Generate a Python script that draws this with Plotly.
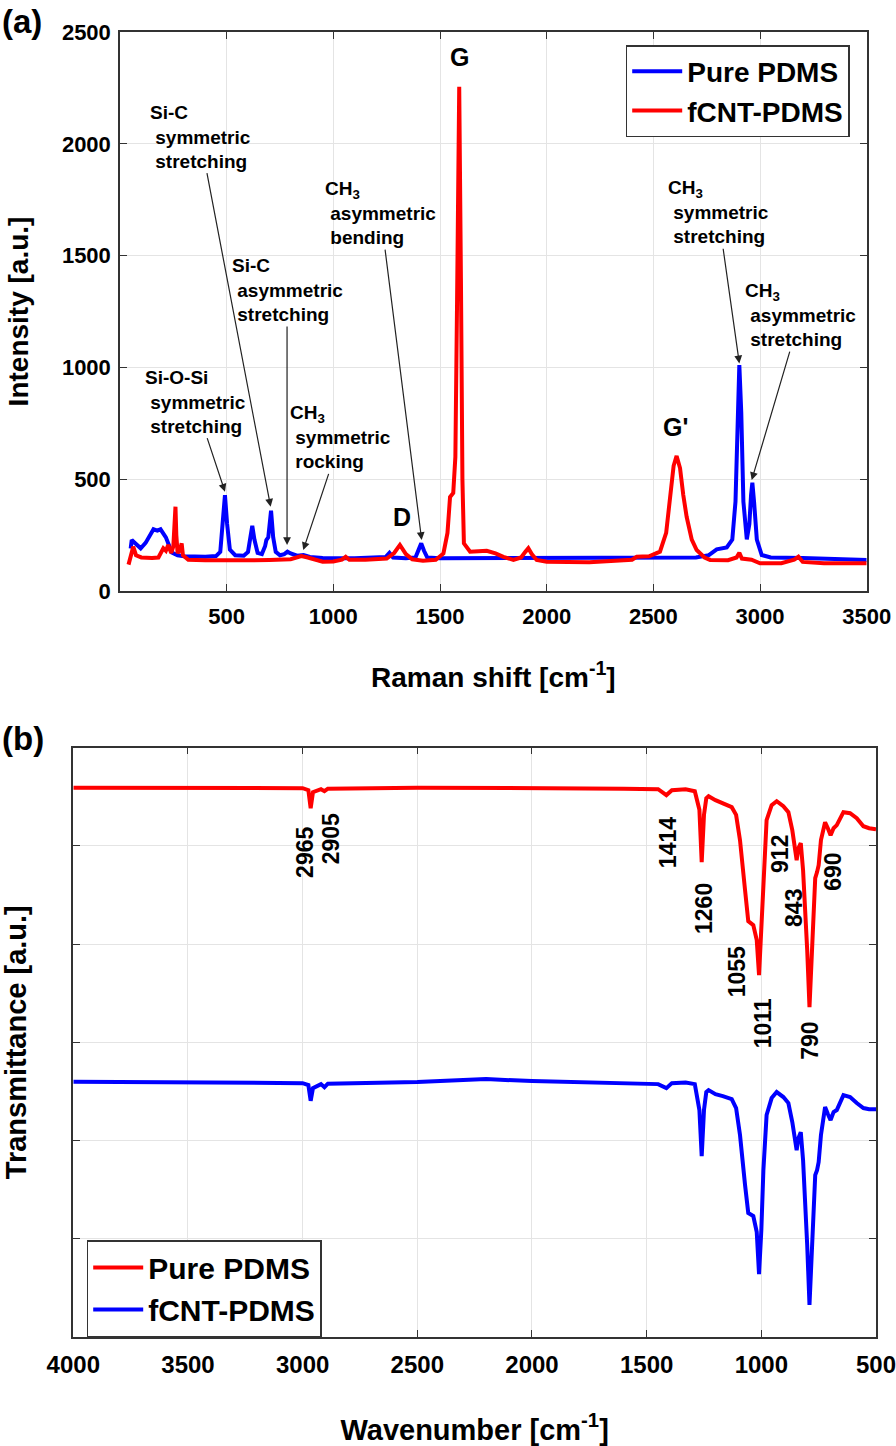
import plotly.graph_objects as go

# ---------------- Panel (a): Raman ----------------
raman_pure_x = [50, 55, 70, 97, 120, 145, 157, 175, 190, 215, 243, 270, 300, 400, 450, 470, 482, 492, 502, 515,
                540, 580, 600, 612, 620, 630, 645, 665, 680, 686, 695, 708, 718, 730, 750, 770, 785, 800, 830,
                860, 890, 950, 1000, 1100, 1200, 1245, 1263, 1280, 1340, 1385, 1400, 1412, 1425, 1440, 1500,
                2000, 2500, 2700, 2760, 2797, 2844, 2870, 2885, 2895, 2903, 2912, 2922, 2938, 2950, 2958, 2964,
                2972, 2985, 3008, 3050, 3200, 3350, 3500]
raman_pure_y = [190, 228, 215, 191, 215, 262, 276, 270, 276, 240, 172, 160, 155, 153, 156, 175, 300, 429, 300, 185,
                160, 158, 175, 240, 291, 230, 170, 165, 200, 228, 240, 359, 240, 175, 160, 165, 176, 168, 158,
                161, 152, 148, 146, 147, 148, 152, 171, 150, 146, 150, 185, 213, 180, 150, 146,
                146, 146, 150, 160, 186, 195, 230, 400, 800, 1010, 800, 400, 231, 300, 430, 484,
                400, 230, 161, 150, 148, 145, 139]

raman_fcnt_x = [40, 50, 62, 75, 100, 150, 180, 203, 215, 226, 240, 250, 256, 260, 264, 270, 280, 289, 295, 320,
                400, 500, 600, 700, 800, 850, 880, 950, 1000, 1040, 1058, 1075, 1150, 1250, 1285, 1312, 1340,
                1370, 1420, 1480, 1516, 1535, 1547, 1562, 1572, 1580, 1590, 1598, 1605, 1612, 1641, 1680, 1719,
                1760, 1797, 1844, 1880, 1900, 1914, 1930, 1953, 2000, 2200, 2400, 2422, 2480, 2531, 2560, 2575,
                2595, 2609, 2625, 2640, 2656, 2680, 2703, 2740, 2766, 2850, 2890, 2903, 2915, 2960, 3000, 3100,
                3160, 3180, 3200, 3300, 3500]
raman_fcnt_y = [118, 160, 198, 160, 150, 148, 150, 191, 180, 206, 170, 200, 300, 377, 250, 170, 180, 213, 160, 140,
                137, 136, 137, 139, 142, 156, 150, 131, 132, 140, 153, 140, 140, 145, 170, 206, 165,
                142, 135, 140, 168, 260, 420, 438, 600, 1300, 2255, 1400, 500, 213, 176, 178, 180,
                168, 153, 139, 150, 175, 191, 165, 139, 131, 129, 140, 153, 155, 176, 260, 392,
                560, 604, 550, 430, 332, 230, 183, 150, 139, 138, 150, 171, 145, 140, 124, 124,
                140, 153, 130, 124, 124]

raman_xticks = [500, 1000, 1500, 2000, 2500, 3000, 3500]
raman_yticks = [0, 500, 1000, 1500, 2000, 2500]

# ---------------- Panel (b): FTIR ----------------
ftir_x = [4000, 3500, 3000, 2975, 2965, 2955, 2920, 2905, 2890, 2500, 2200, 2000, 1600, 1450, 1414, 1390, 1330,
          1290, 1270, 1260, 1250, 1240, 1230, 1200, 1168, 1129, 1110, 1093, 1071, 1057, 1035, 1020, 1010, 1000,
          991, 977, 955, 933, 904, 882, 865, 855, 846, 838, 828, 818, 809, 800, 790, 780, 773, 765, 757, 750,
          740, 722, 710, 698, 685, 671, 642, 613, 584, 555, 530, 500]
ftir_pure = [5.593, 5.590, 5.588, 5.567, 5.384, 5.547, 5.577, 5.557, 5.583, 5.593, 5.593, 5.593, 5.583, 5.577,
             5.517, 5.567, 5.577, 5.557, 5.367, 4.834, 5.316, 5.486, 5.506, 5.466, 5.435, 5.394, 5.316, 5.058,
             4.549, 4.233, 4.193, 4.040, 3.683, 4.141, 4.722, 5.262, 5.414, 5.455, 5.404, 5.343, 5.160, 4.956,
             4.855, 4.977, 5.027, 4.753, 4.376, 3.938, 3.357, 3.938, 4.376, 4.671, 4.733, 4.804, 5.058, 5.241,
             5.180, 5.109, 5.180, 5.211, 5.343, 5.333, 5.282, 5.200, 5.180, 5.170]
ftir_fcnt = [2.597, 2.594, 2.583, 2.563, 2.403, 2.532, 2.573, 2.542, 2.578, 2.594, 2.624, 2.604, 2.583, 2.573,
             2.532, 2.583, 2.589, 2.573, 2.309, 1.840, 2.309, 2.492, 2.512, 2.471, 2.451, 2.420, 2.329, 2.054,
             1.545, 1.260, 1.229, 1.066, 0.638, 1.086, 1.698, 2.258, 2.431, 2.492, 2.441, 2.380, 2.187, 2.003,
             1.901, 2.023, 2.084, 1.799, 1.392, 0.934, 0.323, 0.934, 1.392, 1.646, 1.697, 1.779, 2.054, 2.339,
             2.268, 2.207, 2.288, 2.309, 2.461, 2.441, 2.380, 2.329, 2.318, 2.318]
ftir_xticks = [4000, 3500, 3000, 2500, 2000, 1500, 1000, 500]

ftir_peak_labels = ["2965", "2905", "1414", "1260", "1055", "1011", "912", "843", "790", "690"]
ftir_label_x = [2989, 2875, 1406, 1253, 1107, 994, 922, 861, 785, 686]
ftir_label_y = [4.93, 5.07, 5.03, 4.36, 3.72, 3.19, 4.92, 4.37, 3.01, 4.74]

W, H = 896, 1446


def fx(px):
    return px / W


def fy(py):
    return 1 - py / H


FONT = "Liberation Sans, Arial, sans-serif"
BLUE = "#0000ff"
RED = "#ff0000"

fig = go.Figure()
fig.add_trace(go.Scatter(x=raman_pure_x, y=raman_pure_y, mode="lines", name="Pure PDMS",
                         line=dict(color=BLUE, width=4), xaxis="x", yaxis="y", legend="legend"))
fig.add_trace(go.Scatter(x=raman_fcnt_x, y=raman_fcnt_y, mode="lines", name="fCNT-PDMS",
                         line=dict(color=RED, width=4), xaxis="x", yaxis="y", legend="legend"))
fig.add_trace(go.Scatter(x=ftir_x, y=ftir_pure, mode="lines", name="Pure PDMS",
                         line=dict(color=RED, width=4), xaxis="x2", yaxis="y2", legend="legend2"))
fig.add_trace(go.Scatter(x=ftir_x, y=ftir_fcnt, mode="lines", name="fCNT-PDMS",
                         line=dict(color=BLUE, width=4), xaxis="x2", yaxis="y2", legend="legend2"))

axis_common = dict(showline=True, linecolor="#333333", linewidth=1.5, mirror="ticks", ticks="inside",
                   ticklen=7, tickcolor="#333333", showgrid=True, gridcolor="#e4e4e4", gridwidth=1,
                   zeroline=False, automargin=False)

fig.update_layout(
    width=W, height=H, margin=dict(l=0, r=0, t=0, b=0, autoexpand=False),
    paper_bgcolor="white", plot_bgcolor="white",
    font=dict(family=FONT, color="black"),
    xaxis=dict(domain=[fx(120), fx(866.7)], range=[0, 3500], tickvals=raman_xticks, anchor="y",
               tickfont=dict(size=22, weight="bold"), ticklabelstandoff=5, ticklabeloverflow="allow",
               title=dict(text="Raman shift [cm<sup>-1</sup>]", font=dict(size=28, weight="bold"), standoff=39),
               **axis_common),
    yaxis=dict(domain=[fy(591), fy(32)], range=[0, 2500], tickvals=raman_yticks, anchor="x",
               tickfont=dict(size=22, weight="bold"), ticklabelstandoff=3,
               title=dict(text="Intensity [a.u.]", font=dict(size=28, weight="bold"), standoff=25),
               **axis_common),
    xaxis2=dict(domain=[fx(73.3), fx(876)], range=[4000, 500], tickvals=ftir_xticks, anchor="y2",
                tickfont=dict(size=24, weight="bold"), ticklabelstandoff=6, ticklabeloverflow="allow",
                title=dict(text="Wavenumber [cm<sup>-1</sup>]", font=dict(size=29, weight="bold"), standoff=42),
                **axis_common),
    yaxis2=dict(domain=[fy(1336.7), fy(747.7)], range=[0, 6], dtick=1, anchor="x2",
                showticklabels=False,
                title=dict(text="Transmittance [a.u.]", font=dict(size=29, weight="bold"), standoff=38),
                **axis_common),
    legend=dict(x=fx(625.7), y=fy(45), xanchor="left", yanchor="top", bgcolor="white",
                bordercolor="#333333", borderwidth=1.5, font=dict(size=28, weight="bold"),
                itemwidth=50, tracegroupgap=0),
    legend2=dict(x=fx(86.7), y=fy(1240), xanchor="left", yanchor="top", bgcolor="white",
                 bordercolor="#333333", borderwidth=1.5, font=dict(size=30, weight="bold"),
                 itemwidth=50, tracegroupgap=0),
)

ann = []
# panel labels
ann.append(dict(text="(a)", x=0, y=fy(22), xref="paper", yref="paper", xanchor="left", yanchor="middle",
                showarrow=False, font=dict(size=33, weight="bold")))
ann.append(dict(text="(b)", x=0, y=fy(738), xref="paper", yref="paper", xanchor="left", yanchor="middle",
                showarrow=False, font=dict(size=33, weight="bold")))

NB = "\u00a0"
# (text, block centre x, block centre y, arrow tip x, arrow tip y) in data units
raman_blocks = [
    ("Si-C<br>" + NB + "symmetric<br>" + NB + "stretching", 375, 2032, 706, 377),
    ("Si-C<br>" + NB + "asymmetric<br>" + NB + "stretching", 783, 1346, 783, 206),
    ("CH<sub>3</sub><br>" + NB + "asymmetric<br>" + NB + "bending", 1221, 1690, 1414, 228),
    ("Si-O-Si<br>" + NB + "symmetric<br>" + NB + "stretching", 352, 847, 492, 444),
    ("CH<sub>3</sub><br>" + NB + "symmetric<br>" + NB + "rocking", 1035, 687, 859, 183),
    ("CH<sub>3</sub><br>" + NB + "symmetric<br>" + NB + "stretching", 2803, 1694, 2903, 1018),
    ("CH<sub>3</sub><br>" + NB + "asymmetric<br>" + NB + "stretching", 3190, 1234, 2961, 496),
]
for txt, cx, cy, hx, hy in raman_blocks:
    ann.append(dict(text=txt, x=hx, y=hy, ax=cx, ay=cy, xref="x", yref="y", axref="x", ayref="y",
                    xanchor="center", yanchor="middle", align="left",
                    showarrow=True, arrowhead=2, arrowsize=1.3, arrowwidth=1.2, arrowcolor="#222222",
                    font=dict(size=19, weight="bold")))

for txt, x, y in [("D", 1320, 332), ("G", 1589, 2388), ("G'", 2606, 735)]:
    ann.append(dict(text=txt, x=x, y=y, xref="x", yref="y", xanchor="center", yanchor="middle",
                    showarrow=False, font=dict(size=25, weight="bold")))

for txt, x, y in zip(ftir_peak_labels, ftir_label_x, ftir_label_y):
    ann.append(dict(text=txt, x=x, y=y, xref="x2", yref="y2", xanchor="center", yanchor="middle",
                    textangle=-90, showarrow=False, font=dict(size=23, weight="bold")))

fig.update_layout(annotations=ann)

# remove the default page margin so the figure fills the 896x1446 window exactly
fig.write_html("out.html", config={"displayModeBar": False},
               post_script="document.body.style.margin='0';document.documentElement.style.overflow='hidden';")
